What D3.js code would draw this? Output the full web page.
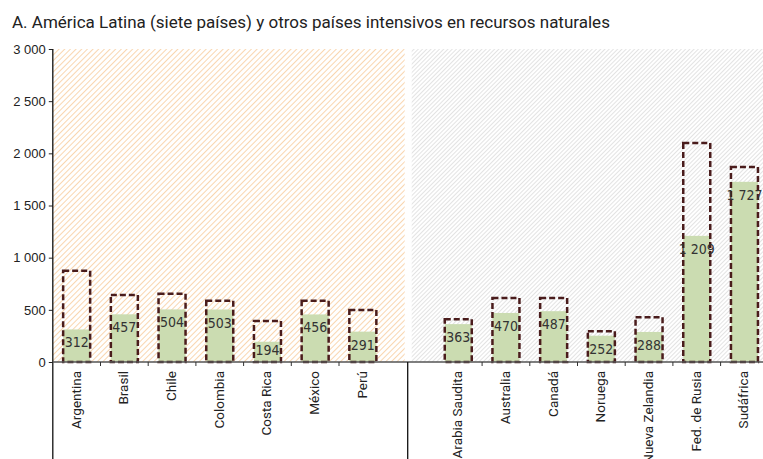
<!DOCTYPE html>
<html>
<head>
<meta charset="utf-8">
<script src="https://cdn.jsdelivr.net/npm/d3@7"></script>
<style>
  body { margin: 0; background: #fff; }
  svg { display: block; font-family: Roboto, "Liberation Sans", sans-serif; }
</style>
</head>
<body>
<div id="chart"></div>
<script>
const width = 763;
const height = 459;

// grupo A (América Latina) y grupo B (otros países)
const grupoA = ["Argentina", "Brasil", "Chile", "Colombia", "Costa Rica", "México", "Perú"];
const grupoB = ["Arabia Saudita", "Australia", "Canadá", "Noruega", "Nueva Zelandia", "Fed. de Rusia", "Sudáfrica"];
const valoresA = [312, 457, 504, 503, 194, 456, 291];
const valoresB = [363, 470, 487, 252, 288, 1209, 1727];
const maximosA = [875, 643, 653, 588, 393, 588, 499];
const maximosB = [410, 614, 614, 295, 429, 2099, 1869];
const yTicks = [0, 500, 1000, 1500, 2000, 2500, 3000];
const titulo = "A. América Latina (siete países) y otros países intensivos en recursos naturales";

const data = grupoA.map((c, i) => ({pais: c, valor: valoresA[i], max: maximosA[i]}))
  .concat(grupoB.map((c, i) => ({pais: c, valor: valoresB[i], max: maximosB[i]})));

const margin = {top: 49, left: 52.8, bottom: 97};
const baseY = height - margin.bottom; // 362

const xScale = d3.scaleBand()
  .domain([...grupoA, "_gap", ...grupoB])
  .range([margin.left, margin.left + 15 * 47.7]);

const yScale = d3.scaleLinear()
  .domain([0, 3000])
  .range([baseY, margin.top]);

const svg = d3.select("#chart").append("svg")
  .attr("width", width).attr("height", height);

const defs = svg.append("defs");
function hatch(id, color, gap, sw) {
  const p = defs.append("pattern")
    .attr("id", id)
    .attr("patternUnits", "userSpaceOnUse")
    .attr("width", gap).attr("height", gap)
    .attr("patternTransform", "rotate(45)");
  p.append("line")
    .attr("x1", 0).attr("y1", 0).attr("x2", 0).attr("y2", gap)
    .attr("stroke", color).attr("stroke-width", sw);
}
hatch("hOrange", "#f8cfa2", 4, 1.7);
hatch("hGray", "#c8c8c8", 3, 1);

const bw = xScale.bandwidth();
const gapX = xScale("_gap");

// fondos rayados
svg.append("rect")
  .attr("x", margin.left).attr("y", margin.top)
  .attr("width", gapX + 18 - margin.left).attr("height", baseY - margin.top)
  .attr("fill", "url(#hOrange)");
svg.append("rect")
  .attr("x", gapX + 25).attr("y", margin.top)
  .attr("width", width - gapX - 25).attr("height", baseY - margin.top)
  .attr("fill", "url(#hGray)");

// titulo
svg.append("text")
  .attr("x", 12).attr("y", 28)
  .attr("font-size", 17)
  .attr("fill", "#222")
  .text(titulo);

const barW = 27;

// barras verdes
svg.selectAll(".bar").data(data).join("rect")
  .attr("class", "bar")
  .attr("x", d => xScale(d.pais) + (bw - barW) / 2)
  .attr("y", d => yScale(d.valor))
  .attr("width", barW)
  .attr("height", d => yScale(0) - yScale(d.valor))
  .attr("fill", "#cbdcb1");

// contornos discontinuos
svg.selectAll(".outline").data(data).join("rect")
  .attr("class", "outline")
  .attr("x", d => xScale(d.pais) + (bw - barW) / 2)
  .attr("y", d => yScale(d.max))
  .attr("width", barW)
  .attr("height", d => yScale(0) - yScale(d.max))
  .attr("fill", "none")
  .attr("stroke", "#4a1c1c")
  .attr("stroke-width", 2.5)
  .attr("stroke-dasharray", "6,3");

// etiquetas de valor
const fmt = v => d3.format(",")(v).replace(",", " ");
svg.selectAll(".lbl").data(data).join("text")
  .attr("class", "lbl")
  .attr("x", d => xScale(d.pais) + bw / 2)
  .attr("y", d => Math.min(yScale(d.valor) + 14, baseY - 11))
  .attr("text-anchor", "middle")
  .attr("dominant-baseline", "middle")
  .attr("font-family", "'Liberation Sans Narrow', 'DejaVu Sans Condensed', Roboto, sans-serif")
  .attr("font-size", 14)
  .attr("fill", "#333")
  .text(d => fmt(d.valor));

// eje y
const yAxis = d3.axisLeft(yScale).tickValues(yTicks).tickSize(4).tickFormat(fmt);
const gy = svg.append("g")
  .attr("transform", `translate(${margin.left},0)`)
  .call(yAxis);
gy.select(".domain").remove();
gy.selectAll("text").attr("font-size", 13).attr("fill", "#222").attr("x", -7);
gy.selectAll("line").attr("stroke", "#222");
svg.append("line")
  .attr("x1", margin.left).attr("x2", margin.left)
  .attr("y1", margin.top).attr("y2", height)
  .attr("stroke", "#111").attr("stroke-width", 1.3);

// linea base
svg.append("line")
  .attr("x1", margin.left).attr("x2", width)
  .attr("y1", baseY).attr("y2", baseY)
  .attr("stroke", "#555").attr("stroke-width", 1.5);

// marcas entre categorias
const tickPos = grupoA.slice(1).concat(grupoB.slice(1)).map(c => xScale(c));
svg.selectAll(".xt").data(tickPos).join("line")
  .attr("class", "xt")
  .attr("x1", d => d).attr("x2", d => d)
  .attr("y1", baseY).attr("y2", baseY + 4)
  .attr("stroke", "#333");

// separador de grupos
svg.append("line")
  .attr("x1", gapX + 21).attr("x2", gapX + 21)
  .attr("y1", baseY).attr("y2", height)
  .attr("stroke", "#111").attr("stroke-width", 1.3);

// etiquetas de paises
svg.selectAll(".xl").data(data).join("text")
  .attr("class", "xl")
  .attr("transform", d => `translate(${xScale(d.pais) + bw / 2 + 4},${baseY + 9}) rotate(-90)`)
  .attr("text-anchor", "end")
  .attr("font-size", 13.5)
  .attr("fill", "#222")
  .text(d => d.pais);
</script>
</body>
</html>
